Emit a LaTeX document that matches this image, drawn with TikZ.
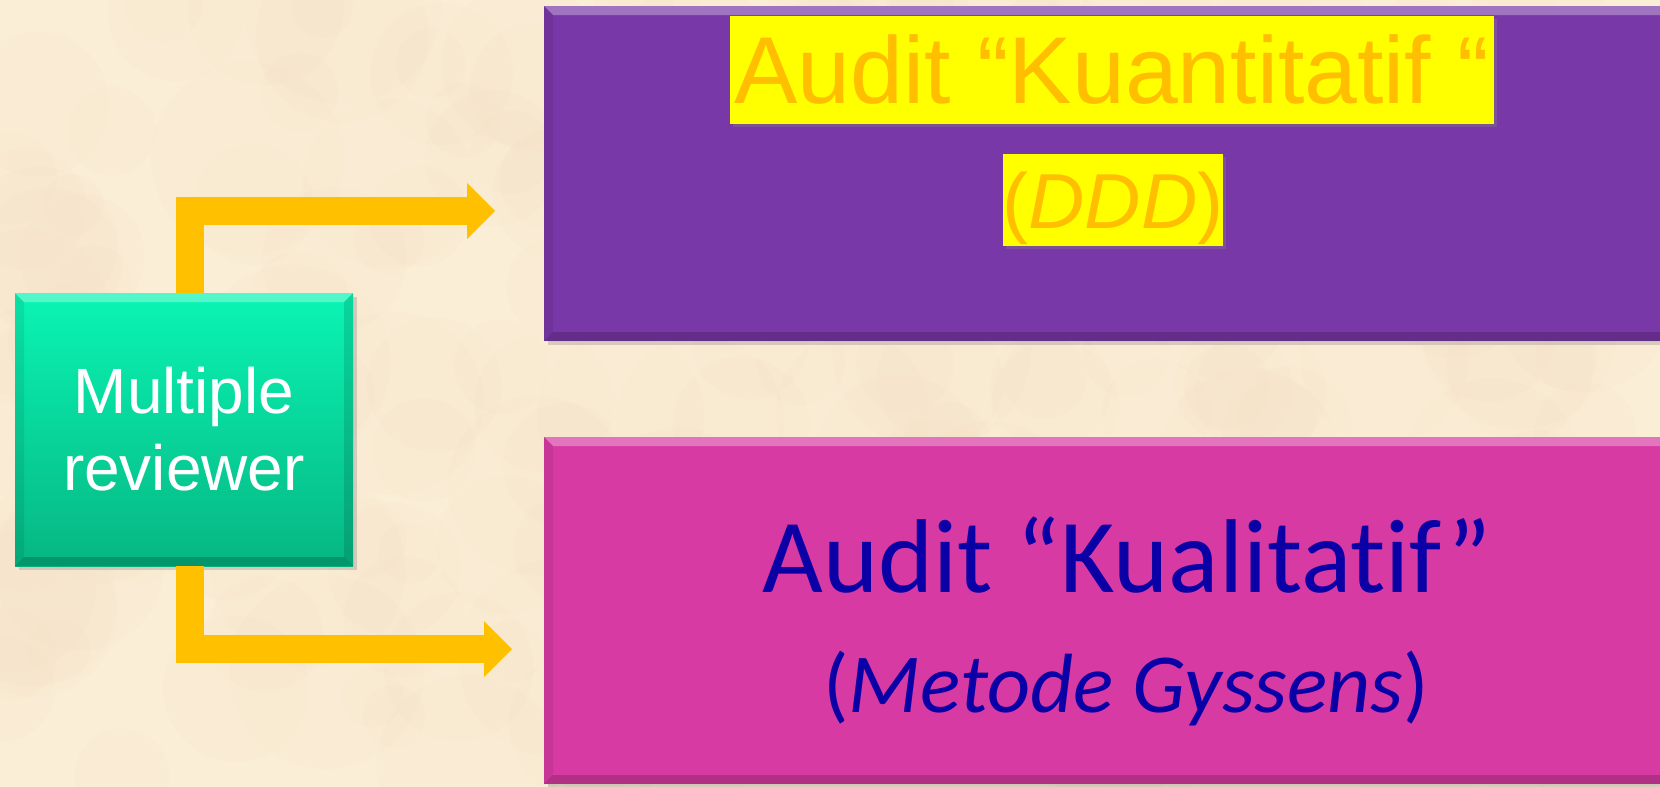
\documentclass[tikz,border=0pt]{standalone}
\usepackage{fontspec}
\setmainfont{Liberation Sans}
\newfontfamily\carlito[Ligatures=NoCommon]{Carlito}
\usetikzlibrary{arrows.meta,shadows,calc}
\definecolor{bg}{RGB}{251,238,214}
\definecolor{blot}{RGB}{225,200,160}
\definecolor{arr}{RGB}{255,192,0}
\definecolor{grtop}{RGB}{10,245,180}
\definecolor{grbot}{RGB}{6,182,130}
\definecolor{purp}{RGB}{121,56,168}
\definecolor{pinkbox}{RGB}{216,58,163}
\definecolor{navy}{RGB}{10,0,165}
\definecolor{hlyel}{RGB}{255,255,0}
\definecolor{orng}{RGB}{255,190,0}
\tikzset{
  flow/.style={draw=arr, line width=28pt, line join=miter,
    -{Triangle[length=28pt,width=56pt,line width=0pt]}},
  bevel/.style={path picture={
    \fill[white,opacity=0.3] (path picture bounding box.north west) -- (path picture bounding box.north east)
      -- ([xshift=-9pt,yshift=-9pt]path picture bounding box.north east) -- ([xshift=9pt,yshift=-9pt]path picture bounding box.north west) -- cycle;
    \fill[black,opacity=0.18] (path picture bounding box.south west) -- (path picture bounding box.south east)
      -- ([xshift=-9pt,yshift=9pt]path picture bounding box.south east) -- ([xshift=9pt,yshift=9pt]path picture bounding box.south west) -- cycle;
    \fill[black,opacity=0.08] (path picture bounding box.north west) -- (path picture bounding box.south west)
      -- ([xshift=9pt,yshift=9pt]path picture bounding box.south west) -- ([xshift=9pt,yshift=-9pt]path picture bounding box.north west) -- cycle;
    \fill[black,opacity=0.12] (path picture bounding box.north east) -- (path picture bounding box.south east)
      -- ([xshift=-9pt,yshift=9pt]path picture bounding box.south east) -- ([xshift=-9pt,yshift=-9pt]path picture bounding box.north east) -- cycle;
  }},
  box/.style={inner sep=0pt, bevel, drop shadow={shadow xshift=4pt, shadow yshift=-4pt, opacity=0.3}},
  hl/.style={fill=hlyel, inner sep=0pt, drop shadow={shadow xshift=3pt, shadow yshift=-3pt, opacity=0.35}},
}
\begin{document}
\begin{tikzpicture}[x=1pt,y=-1pt]
\useasboundingbox (0,0) rectangle (1660,787);
\fill[bg] (0,0) rectangle (1660,787);
\pgfmathsetseed{11}
\foreach \i in {1,...,220} {
  \pgfmathsetmacro\px{rnd*1660}
  \pgfmathsetmacro\py{rnd*787}
  \pgfmathsetmacro\rr{30+rnd*70}
  \fill[blot, opacity=0.03] (\px,\py) circle (\rr);
}
% boxes
\node[box, minimum width=338pt, minimum height=273pt, top color=grtop, bottom color=grbot,
  text=white, align=center, font=\fontsize{64}{77}\selectfont] (rev) at (184,429.5) {Multiple\\reviewer};
\node[box, fill=purp, minimum width=1126pt, minimum height=335pt] (quant) at (1107,173.5) {};
\node[box, fill=pinkbox, minimum width=1126pt, minimum height=347pt] (qual) at (1107,610.5) {};
% texts
\node[hl, minimum width=764pt, minimum height=108pt, text height=87pt, text depth=21pt,
  text=orng, font=\fontsize{95}{100}\selectfont] (kuan) at (1112,70) {Audit “Kuantitatif “};
\node[hl, minimum width=216pt, minimum height=92pt, text height=74pt, text depth=18pt,
  text=orng, font=\fontsize{78}{80}\selectfont] (ddd) at (1113,200) {(\textit{DDD})};
\node[anchor=base, text=navy, font=\carlito\fontsize{105}{110}\selectfont] (kual) at (1127,592) {Audit “Kualitatif”};
\node[anchor=base, text=navy, font=\carlito\fontsize{84}{90}\selectfont] (gys) at (1126,712) {(\textit{Metode Gyssens})};
% connectors
\coordinate (sx) at (190,0);
\coordinate (t1) at (495,211);
\coordinate (t2) at (512,649);
\draw[flow] (rev.north -| sx) |- (t1);
\draw[flow] (rev.south -| sx) |- (t2);
\end{tikzpicture}
\end{document}
